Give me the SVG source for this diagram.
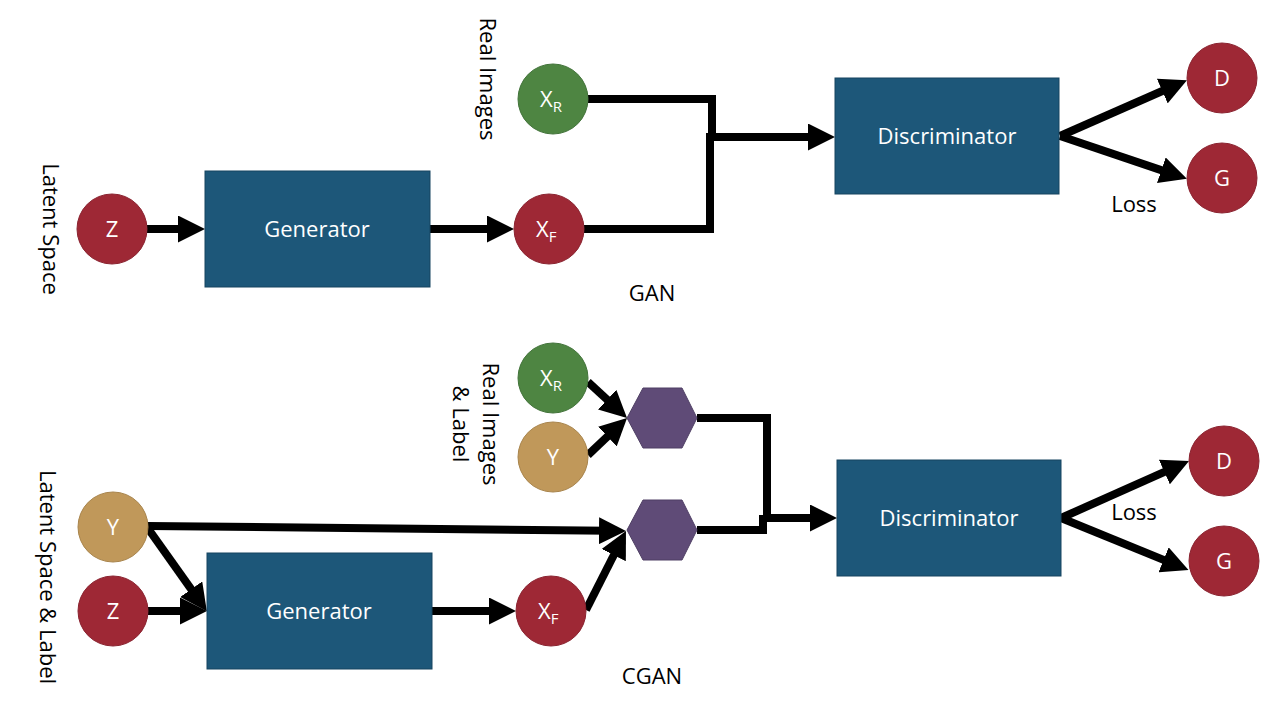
<svg xmlns="http://www.w3.org/2000/svg" width="1278" height="721" viewBox="0 0 1278 721">
<style>
text{font-family:"Open Sans","Liberation Sans",sans-serif;font-size:22px}
.w{fill:#ffffff}
.k{fill:#000000}
.red{fill:#9e2835;stroke:#8a2330;stroke-width:1}
.grn{fill:#4e8542;stroke:#42733a;stroke-width:1}
.tan{fill:#c0985a;stroke:#a8844c;stroke-width:1}
.box{fill:#1d5779;stroke:#164561;stroke-width:1}
.hex{fill:#5f4b77;stroke:#4f3f64;stroke-width:1}
.c{fill:none;stroke:#000;stroke-width:8}
.a{fill:none;stroke:#000;stroke-width:8;marker-end:url(#ah)}
</style>
<defs>
<marker id="ah" markerUnits="userSpaceOnUse" markerWidth="27" markerHeight="27" refX="10" refY="13.5" orient="auto" viewBox="0 0 27 27">
<path d="M0,0 L27,13.5 L0,27 z" fill="#000"/>
</marker>
</defs>
<g id="connectors">
<path class="a" d="M147,229 L188,229"/>
<path class="a" d="M430,229 L497,229"/>
<path class="c" d="M588,99 H712 V140"/>
<path class="c" d="M584,229 H710 V133"/>
<path class="a" d="M706,137 L818,137"/>
<path class="a" d="M1060,136 L1171.4,87"/>
<path class="a" d="M1060,136 L1170.8,173.4"/>
<path class="a" d="M148,611 L190,611"/>
<path class="a" d="M147,527 L197,597.4"/>
<path class="a" d="M432,611 L499,611"/>
<path class="a" d="M588,382 L614.5,406.4"/>
<path class="a" d="M588,455 L614.7,429.7"/>
<path class="a" d="M148,526 L609,530.8"/>
<path class="a" d="M586,610 L618.3,546.2"/>
<path class="c" d="M697,418 H767 V522"/>
<path class="c" d="M697,530 H763 V515"/>
<path class="a" d="M763,518 L820,518"/>
<path class="a" d="M1061,518 L1173.5,467.9"/>
<path class="a" d="M1061,518 L1172.8,563.6"/>
</g>
<g id="gan-z"><circle class="red" cx="112" cy="229" r="35"/><text class="w" x="112" y="237" text-anchor="middle">Z</text></g>
<g id="gan-generator"><rect class="box" x="205" y="171" width="225" height="116"/><text class="w" x="317" y="237" text-anchor="middle">Generator</text></g>
<g id="gan-xf"><circle class="red" cx="549" cy="229" r="35"/><text class="w" x="536" y="237">X<tspan font-size="15" dy="5">F</tspan></text></g>
<g id="gan-xr"><circle class="grn" cx="553" cy="99" r="35"/><text class="w" x="540" y="107">X<tspan font-size="15" dy="5">R</tspan></text></g>
<g id="gan-discriminator"><rect class="box" x="835" y="78" width="224" height="116"/><text class="w" x="947" y="144" text-anchor="middle">Discriminator</text></g>
<g id="gan-d"><circle class="red" cx="1222" cy="78" r="35"/><text class="w" x="1222" y="86" text-anchor="middle">D</text></g>
<g id="gan-g"><circle class="red" cx="1222" cy="178" r="35"/><text class="w" x="1222" y="186" text-anchor="middle">G</text></g>
<g id="gan-labels">
<text class="k" x="1134" y="212" text-anchor="middle">Loss</text>
<text class="k" x="652" y="301" text-anchor="middle">GAN</text>
<text class="k" text-anchor="middle" transform="translate(43,229) rotate(90)">Latent Space</text>
<text class="k" text-anchor="middle" transform="translate(480,79) rotate(90)">Real Images</text>
</g>
<g id="cgan-y"><circle class="tan" cx="113" cy="527" r="35"/><text class="w" x="113" y="535" text-anchor="middle">Y</text></g>
<g id="cgan-z"><circle class="red" cx="113" cy="611" r="35"/><text class="w" x="113" y="619" text-anchor="middle">Z</text></g>
<g id="cgan-generator"><rect class="box" x="207" y="553" width="225" height="116"/><text class="w" x="319" y="619" text-anchor="middle">Generator</text></g>
<g id="cgan-xf"><circle class="red" cx="551" cy="611" r="35"/><text class="w" x="538" y="619">X<tspan font-size="15" dy="5">F</tspan></text></g>
<g id="cgan-xr"><circle class="grn" cx="553" cy="378" r="35"/><text class="w" x="540" y="386">X<tspan font-size="15" dy="5">R</tspan></text></g>
<g id="cgan-yr"><circle class="tan" cx="553" cy="457" r="35"/><text class="w" x="553" y="465" text-anchor="middle">Y</text></g>
<g id="cgan-hex-top"><polygon class="hex" points="627,418 643,388 682,388 697,418 682,448 643,448"/></g>
<g id="cgan-hex-bottom"><polygon class="hex" points="627,530 643,500 682,500 697,530 682,560 643,560"/></g>
<g id="cgan-discriminator"><rect class="box" x="837" y="460" width="224" height="116"/><text class="w" x="949" y="526" text-anchor="middle">Discriminator</text></g>
<g id="cgan-d"><circle class="red" cx="1224" cy="461" r="35"/><text class="w" x="1224" y="469" text-anchor="middle">D</text></g>
<g id="cgan-g"><circle class="red" cx="1224" cy="561" r="35"/><text class="w" x="1224" y="569" text-anchor="middle">G</text></g>
<g id="cgan-labels">
<text class="k" x="1134" y="520" text-anchor="middle">Loss</text>
<text class="k" x="652" y="684" text-anchor="middle">CGAN</text>
<text class="k" text-anchor="middle" transform="translate(40,577) rotate(90)">Latent Space &amp; Label</text>
<text class="k" text-anchor="middle" transform="translate(483,424) rotate(90)">Real Images</text>
<text class="k" text-anchor="middle" transform="translate(453,424) rotate(90)">&amp; Label</text>
</g>
</svg>
